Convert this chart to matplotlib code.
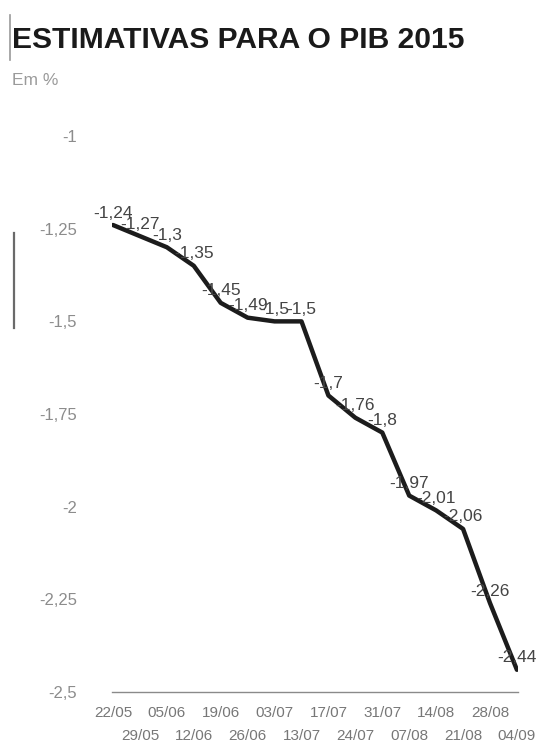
import matplotlib
matplotlib.use("Agg")
import matplotlib.pyplot as plt
from matplotlib.lines import Line2D

plt.rcParams['font.family'] = ['Liberation Sans', 'DejaVu Sans']

# Weekly estimates for 2015 GDP (%)
dates = ["22/05", "29/05", "05/06", "12/06", "19/06", "26/06", "03/07", "13/07",
         "17/07", "24/07", "31/07", "07/08", "14/08", "21/08", "28/08", "04/09"]
pib = [-1.24, -1.27, -1.30, -1.35, -1.45, -1.49, -1.50, -1.50,
       -1.70, -1.76, -1.80, -1.97, -2.01, -2.06, -2.26, -2.44]
yticks = [-1.0, -1.25, -1.5, -1.75, -2.0, -2.25, -2.5]


def br(v):
    s = f"{v:.2f}".rstrip("0").rstrip(".")
    return s.replace(".", ",")


fig = plt.figure(figsize=(5.44, 7.5), dpi=100)
ax = fig.add_axes([0.2052, 0.0773, 0.7475, 0.7413])

x = list(range(len(dates)))
ax.plot(x, pib, color="#1c1c1c", lw=3.2, solid_joinstyle="round",
        solid_capstyle="round", zorder=3)

for xi, v in zip(x, pib):
    ax.annotate(br(v), (xi, v), xytext=(0, 8.6), textcoords="offset points",
                ha="center", va="center", fontsize=12.5, color="#444444",
                zorder=4)

ax.set_xlim(-0.05, 15.05)
ax.set_ylim(-2.5, -1.0)

ax.set_yticks(yticks)
ax.set_yticklabels([br(v) for v in yticks])
ax.tick_params(axis="y", length=0, pad=25, labelsize=12, labelcolor="#8c8c8c")

ax.set_xticks(x)
ax.set_xticklabels(dates)
ax.tick_params(axis="x", length=0, labelsize=11, labelcolor="#777777")
for i, t in enumerate(ax.xaxis.get_major_ticks()):
    t.set_pad(10 if i % 2 == 0 else 26.5)

for side in ("top", "right", "left"):
    ax.spines[side].set_visible(False)
ax.spines["bottom"].set_color("#8a8a8a")
ax.spines["bottom"].set_linewidth(1.0)

fig.text(0.022, 0.936, "ESTIMATIVAS PARA O PIB 2015", fontsize=21.6,
         fontweight="bold", color="#1a1a1a", ha="left", va="baseline")
fig.text(0.022, 0.8867, "Em %", fontsize=12.5, color="#9a9a9a",
         ha="left", va="baseline")

# thin rules at the left margin
fig.add_artist(Line2D([10 / 544, 10 / 544], [1 - 15 / 750, 1 - 60 / 750],
                      transform=fig.transFigure, color="#999999", lw=1.2))
fig.add_artist(Line2D([14 / 544, 14 / 544], [1 - 233 / 750, 1 - 328 / 750],
                      transform=fig.transFigure, color="#6a6a6a", lw=1.6))

fig.savefig("out.png", dpi=100, facecolor="white")
